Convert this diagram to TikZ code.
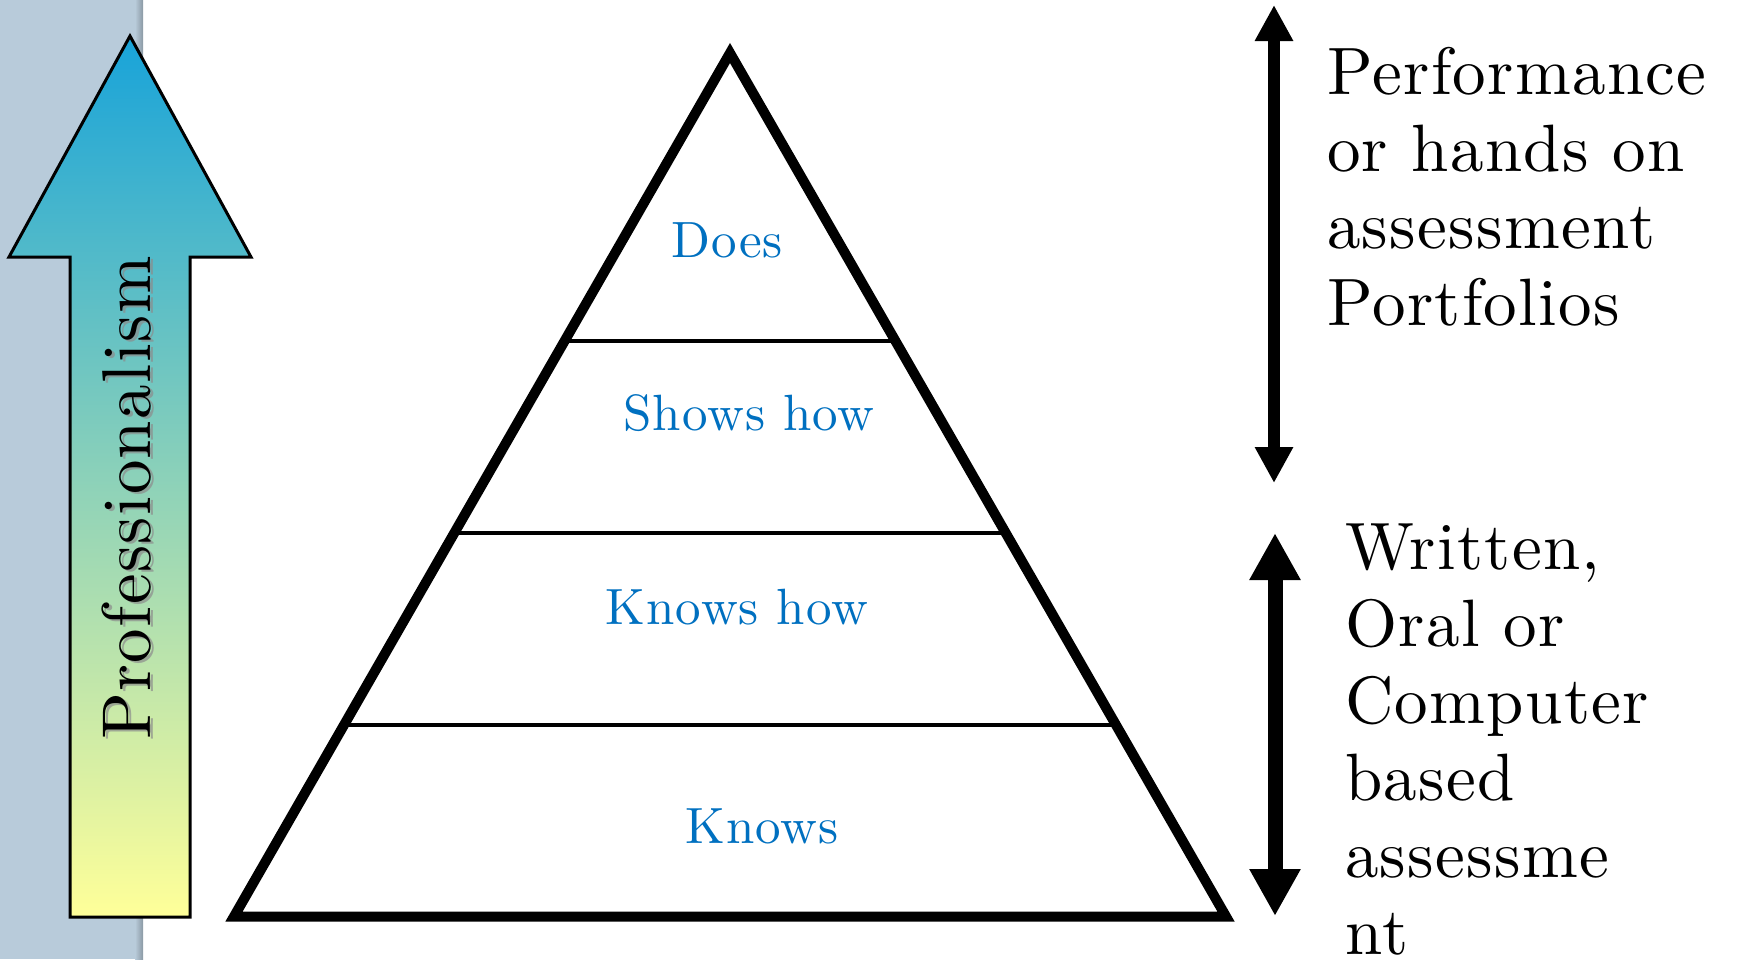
\documentclass[tikz,border=0pt]{standalone}
\usepackage{fontspec}
\newfontfamily\widelm{lmroman10-regular.otf}[LetterSpace=2]
\usepackage{tikz}
\usetikzlibrary{arrows.meta, positioning, calc}
\definecolor{stripblue}{RGB}{184,203,218}
\definecolor{tipblue}{RGB}{24,163,217}
\definecolor{midblue}{RGB}{150,200,204}
\definecolor{lowyellow}{RGB}{255,255,153}
\definecolor{levelblue}{RGB}{0,112,192}
\begin{document}
\begin{tikzpicture}[x=1pt, y=-1pt,
  level/.style={text=levelblue, font=\widelm\fontsize{51}{51}\selectfont, anchor=base, inner sep=0pt},
  side/.style={font=\widelm\fontsize{67}{77}\selectfont, align=left, anchor=north west, inner sep=0pt},
  span/.style={line width=#1}]
\useasboundingbox (0,0) rectangle (1737,959);
\clip (0,0) rectangle (1737,959);
\fill[stripblue] (0,0) rectangle (143,959);
\shade[left color=stripblue, right color=stripblue!75!black] (135,0) rectangle (143,959);
\shade[draw=black, line width=3pt, top color=tipblue, middle color=midblue, bottom color=lowyellow]
  (130,36) -- (251,257) -- (190,257) -- (190,917) -- (70,917) -- (70,257) -- (9,257) -- cycle;
\node[rotate=90, anchor=base west, inner sep=0pt, text=black!45, opacity=0.7, font=\widelm\fontsize{69}{69}\selectfont] (profshadow) at (153,742) {Professionalism};
\node[rotate=90, anchor=base west, inner sep=0pt, font=\widelm\fontsize{69}{69}\selectfont] (prof) at (150,740) {Professionalism};
\coordinate (apex) at (730,53);
\coordinate (bl) at (234,916.5);
\coordinate (br) at (1226,916.5);
\draw[line width=10pt, line join=miter] (apex) -- (br) -- (bl) -- cycle;
\foreach \f/\n in {0.2218/a, 0.4441/b, 0.6665/c} {
  \coordinate (l\n) at ($(bl)!\f!(apex)$);
  \coordinate (r\n) at ($(br)!\f!(apex)$);
  \draw[line width=4pt] (l\n) -- (r\n);
}
\node[level] (does) at (727,257) {Does};
\node[level] (shows) at (749,430) {Shows how};
\node[level] (knowshow) at (737,624) {Knows how};
\node[level] (knows) at (762,843) {Knows};
\coordinate (perftop) at (1274,5);
\coordinate (perfbot) at (1274,483);
\draw[span=12pt, {Triangle[width=36pt,length=36pt]}-{Triangle[width=36pt,length=36pt]}] (perftop) -- (perfbot);
\coordinate (writtop) at (1275,533);
\coordinate (writbot) at (1275,916);
\draw[span=15pt, {Triangle[width=48pt,length=47pt]}-{Triangle[width=48pt,length=47pt]}] (writtop) -- (writbot);
\node[side] (perf) at (1327,47.5) {Performance\\or hands on\\assessment\\Portfolios};
\node[side] (writ) at (1345,524) {Written,\\Oral or\\Computer\\based\\assessme\\nt};
\end{tikzpicture}
\end{document}
